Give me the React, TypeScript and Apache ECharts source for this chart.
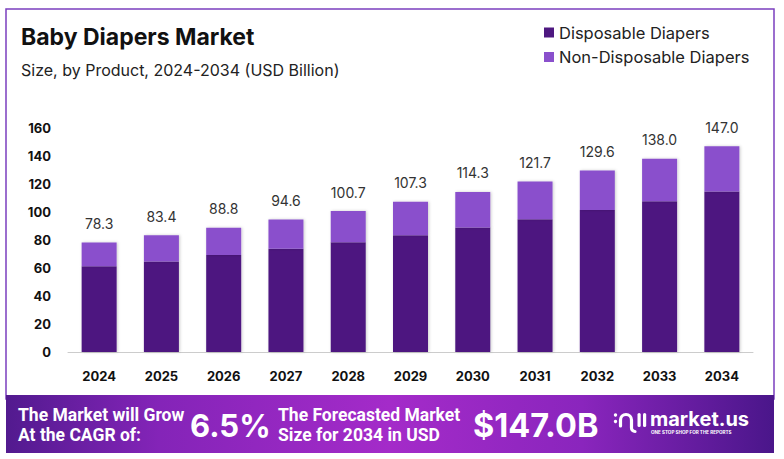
import React, { useEffect, useRef } from "react";
import * as echarts from "echarts";

const years = ["2024", "2025", "2026", "2027", "2028", "2029", "2030", "2031", "2032", "2033", "2034"];
const disposable = [61.3, 64.7, 69.2, 73.7, 78.4, 83.4, 88.9, 94.9, 101.4, 107.7, 114.6];
const nonDisposable = [17.0, 18.7, 19.6, 20.9, 22.3, 23.9, 25.4, 26.8, 28.2, 30.3, 32.4];
const totals = [78.3, 83.4, 88.8, 94.6, 100.7, 107.3, 114.3, 121.7, 129.6, 138.0, 147.0];
const seriesNames = ["Disposable Diapers", "Non-Disposable Diapers"];
const cagr = "6.5%";
const forecast = "$147.0B";

const FONT = "Inter, 'Noto Sans', sans-serif";
const FOOT = "Roboto, sans-serif";

echarts.graphic.registerShape(
  "mlogo",
  echarts.graphic.extendPath(
    "M620.5 426 L620.5 420 A5.5 5.5 0 0 1 631.5 420 L631.5 428 A3.5 3.5 0 0 0 635 431.5",
    {}
  )
);

export default function App() {
  const ref = useRef<HTMLDivElement>(null);
  useEffect(() => {
    if (!ref.current) return;
    const chart = echarts.init(ref.current, null, { renderer: "svg" });
    chart.setOption({
      animation: false,
      backgroundColor: "#ffffff",
      grid: { left: 68, right: 31, top: 128, bottom: 107, containLabel: false },
      legend: {
        orient: "vertical",
        left: 539,
        top: 19,
        itemWidth: 10,
        itemHeight: 10,
        itemGap: 7.5,
        icon: "rect",
        textStyle: { fontFamily: FONT, fontSize: 16.5, color: "#222" },
        data: seriesNames,
      },
      xAxis: {
        type: "category",
        data: years,
        axisLine: { lineStyle: { color: "#cccccc" } },
        axisTick: { show: false },
        axisLabel: { fontFamily: FONT, fontWeight: "bold", fontSize: 13, color: "#111", margin: 17 },
      },
      yAxis: {
        type: "value",
        min: 0,
        max: 160,
        interval: 20,
        splitLine: { show: false },
        axisLine: { show: false },
        axisTick: { show: false },
        axisLabel: { fontFamily: FONT, fontWeight: "bold", fontSize: 13, color: "#111", margin: 17 },
      },
      series: [
        {
          name: seriesNames[0],
          type: "bar",
          stack: "total",
          barWidth: 35,
          data: disposable,
          itemStyle: { color: "#4e1880", shadowBlur: 3, shadowColor: "rgba(0,0,0,0.2)", shadowOffsetX: 1 },
        },
        {
          name: seriesNames[1],
          type: "bar",
          stack: "total",
          barWidth: 35,
          data: nonDisposable,
          itemStyle: { color: "#8a50cc", shadowBlur: 3, shadowColor: "rgba(0,0,0,0.2)", shadowOffsetX: 1 },
          label: {
            show: true,
            position: "top",
            distance: 12,
            fontFamily: FONT,
            fontSize: 14,
            color: "#333",
            formatter: (p: any) => totals[p.dataIndex].toFixed(1),
          },
        },
      ],
      graphic: [
        {
          type: "rect",
          shape: { x: 6, y: 9, width: 768, height: 390 },
          style: { fill: "none", stroke: "#7b3fbf", lineWidth: 1.5 },
          silent: true,
          z: -1,
        },
        {
          type: "text",
          x: 21,
          y: 37,
          style: { text: "Baby Diapers Market", fontFamily: FONT, fontWeight: "bold", fontSize: 23, fill: "#111", verticalAlign: "middle" },
        },
        {
          type: "text",
          x: 21,
          y: 70,
          style: { text: "Size, by Product, 2024-2034 (USD Billion)", fontFamily: FONT, fontSize: 16, fill: "#222", verticalAlign: "middle" },
        },
        {
          type: "rect",
          shape: { x: 6, y: 395, width: 768, height: 58 },
          style: {
            fill: new echarts.graphic.LinearGradient(0, 0, 1, 0, [
              { offset: 0, color: "#521a8f" },
              { offset: 0.2, color: "#8424b8" },
              { offset: 0.5, color: "#a42bc9" },
              { offset: 0.75, color: "#8a25bd" },
              { offset: 1, color: "#4a168a" },
            ]),
          },
        },
        {
          type: "text",
          x: 18,
          y: 415,
          style: { text: "The Market will Grow", fontFamily: FOOT, fontWeight: "bold", fontSize: 17.5, fill: "#fff", verticalAlign: "middle" },
        },
        {
          type: "text",
          x: 18,
          y: 435,
          style: { text: "At the CAGR of:", fontFamily: FOOT, fontWeight: "bold", fontSize: 17.5, fill: "#fff", verticalAlign: "middle" },
        },
        {
          type: "text",
          x: 190,
          y: 425,
          style: { text: cagr, fontFamily: FONT, fontWeight: "bold", fontSize: 31, fill: "#fff", verticalAlign: "middle", shadowBlur: 4, shadowColor: "rgba(0,0,0,0.3)" },
        },
        {
          type: "text",
          x: 278,
          y: 415,
          style: { text: "The Forecasted Market", fontFamily: FOOT, fontWeight: "bold", fontSize: 17.5, fill: "#fff", verticalAlign: "middle" },
        },
        {
          type: "text",
          x: 278,
          y: 435,
          style: { text: "Size for 2034 in USD", fontFamily: FOOT, fontWeight: "bold", fontSize: 17.5, fill: "#fff", verticalAlign: "middle" },
        },
        {
          type: "text",
          x: 473,
          y: 425,
          style: { text: forecast, fontFamily: FONT, fontWeight: "bold", fontSize: 32.5, fill: "#fff", verticalAlign: "middle", shadowBlur: 4, shadowColor: "rgba(0,0,0,0.3)" },
        },
        { type: "circle", shape: { cx: 615.5, cy: 415, r: 1.7 }, style: { fill: "#fff" } },
        { type: "circle", shape: { cx: 615.5, cy: 421.5, r: 1.7 }, style: { fill: "#fff" } },
        { type: "mlogo", x: 0, y: 0, style: { fill: "none", stroke: "#fff", lineWidth: 3.2, lineCap: "round" } },
        { type: "rect", shape: { x: 637.5, y: 413, width: 3.2, height: 14, r: 1.6 }, style: { fill: "#fff" } },
        { type: "rect", shape: { x: 643, y: 413, width: 3.2, height: 14, r: 1.6 }, style: { fill: "#fff" } },
        {
          type: "text",
          x: 650,
          y: 419,
          style: { text: "market.us", fontFamily: FONT, fontWeight: "bold", fontSize: 20, fill: "#fff", verticalAlign: "middle" },
        },
        {
          type: "text",
          x: 651,
          y: 432,
          style: { text: "ONE STOP SHOP FOR THE REPORTS", fontFamily: FONT, fontWeight: "bold", fontSize: 4.6, fill: "#fff", verticalAlign: "middle" },
        },
      ],
    });
    return () => chart.dispose();
  }, []);
  return (
    <div
      ref={ref}
      style={{ position: "absolute", left: 0, top: 0, width: 784, height: 459 }}
    />
  );
}
